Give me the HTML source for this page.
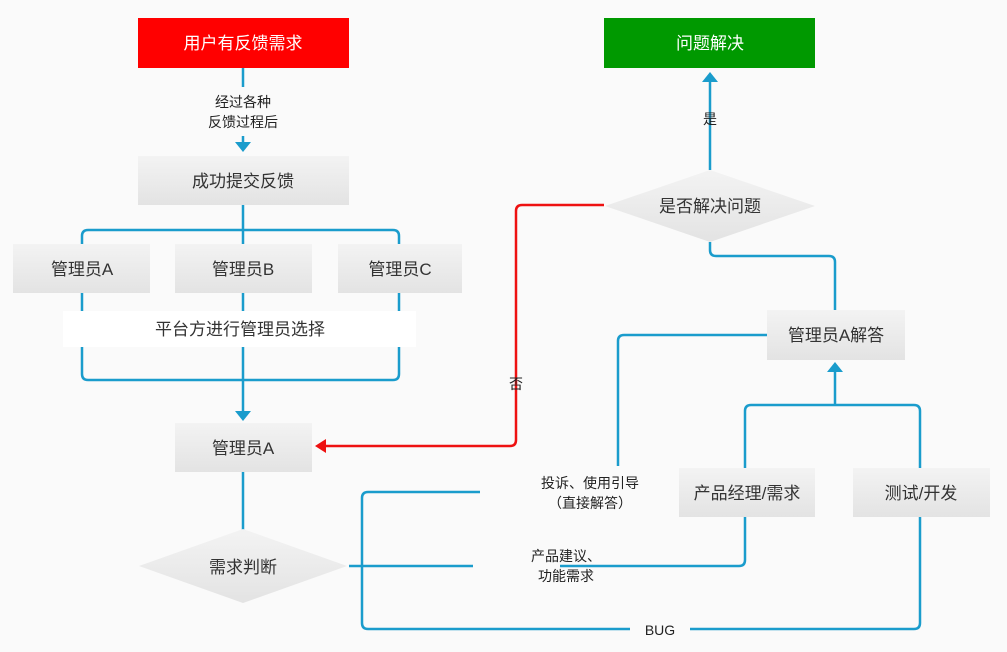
<!DOCTYPE html>
<html><head><meta charset="utf-8"><style>
html,body{margin:0;padding:0;background:#fafafa;}
svg{display:block;}
text{font-family:"Liberation Sans","Noto Sans CJK SC",sans-serif;}
</style></head><body>
<svg width="1007" height="652" viewBox="0 0 1007 652" xmlns="http://www.w3.org/2000/svg">
<defs>
<linearGradient id="g" x1="0" y1="0" x2="0" y2="1"><stop offset="0" stop-color="#f3f3f3"/><stop offset="1" stop-color="#e3e3e3"/></linearGradient>
</defs>
<rect width="1007" height="652" fill="#fafafa"/>
<g fill="none" stroke="#1a9ccc" stroke-width="2.5">
<path d="M243 68V87"/><path d="M243 136V144"/>
<path d="M243 205V230"/>
<path d="M82 244V236Q82 230 88 230H393Q399 230 399 236V244"/>
<path d="M243 230V244"/>
<path d="M82 293V374Q82 380 88 380H393Q399 380 399 374V293"/>
<path d="M243 293V412"/>
<path d="M243 472V530"/>
<path d="M710 242V250Q710 256 716 256H829Q835 256 835 262V310"/>
<path d="M710 170V82"/>
<path d="M767 335H624Q618 335 618 341V466"/>
<path d="M480 492H368Q362 492 362 498V623Q362 629 368 629H630"/>
<path d="M690 629H914Q920 629 920 623V517"/>
<path d="M349 566H473"/><path d="M560 566H739Q745 566 745 560V517"/>
<path d="M745 468V411Q745 405 751 405H914Q920 405 920 411V468"/>
<path d="M835 405V372"/>
</g>
<g fill="#1a9ccc">
<path d="M235 142H251L243 152Z"/>
<path d="M235 411H251L243 421Z"/>
<path d="M702 82H718L710 72Z"/>
<path d="M827 372H843L835 362Z"/>
</g>
<path d="M604 205H522Q516 205 516 211V440Q516 446 510 446H326" fill="none" stroke="#ee1111" stroke-width="2.5"/>
<path d="M326 439V453L315 446Z" fill="#ee1111"/>
<rect x="138" y="18" width="211" height="50" fill="#ff0000"/>
<rect x="604" y="18" width="211" height="50" fill="#009900"/>
<rect x="138" y="156" width="211" height="49" fill="url(#g)"/>
<rect x="13" y="244" width="137" height="49" fill="url(#g)"/>
<rect x="175" y="244" width="137" height="49" fill="url(#g)"/>
<rect x="338" y="244" width="124" height="49" fill="url(#g)"/>
<rect x="63" y="311" width="353" height="36" fill="#ffffff"/>
<rect x="175" y="423" width="137" height="49" fill="url(#g)"/>
<rect x="767" y="310" width="138" height="50" fill="url(#g)"/>
<rect x="679" y="468" width="136" height="49" fill="url(#g)"/>
<rect x="853" y="468" width="137" height="49" fill="url(#g)"/>
<path d="M243 529L347 566L243 603L139 566Z" fill="url(#g)"/>
<path d="M710 170L815 206L710 242L605 206Z" fill="url(#g)"/>
<g font-size="17" text-anchor="middle" fill="#333">
<text x="243" y="49" fill="#fff">用户有反馈需求</text>
<text x="710" y="49" fill="#fff">问题解决</text>
<text x="243" y="187">成功提交反馈</text>
<text x="82" y="275">管理员A</text>
<text x="243" y="275">管理员B</text>
<text x="400" y="275">管理员C</text>
<text x="240" y="335">平台方进行管理员选择</text>
<text x="243" y="454">管理员A</text>
<text x="243" y="573">需求判断</text>
<text x="710" y="212">是否解决问题</text>
<text x="836" y="341">管理员A解答</text>
<text x="747" y="499">产品经理/需求</text>
<text x="921" y="499">测试/开发</text>
</g>
<g font-size="14" text-anchor="middle" fill="#222">
<text x="243" y="107">经过各种</text>
<text x="243" y="127">反馈过程后</text>
<text x="710" y="124">是</text>
<text x="516" y="389">否</text>
<text x="590" y="488">投诉、使用引导</text>
<text x="590" y="508">（直接解答）</text>
<text x="566" y="561">产品建议、</text>
<text x="566" y="581">功能需求</text>
<text x="660" y="635">BUG</text>
</g>
</svg>
</body></html>
